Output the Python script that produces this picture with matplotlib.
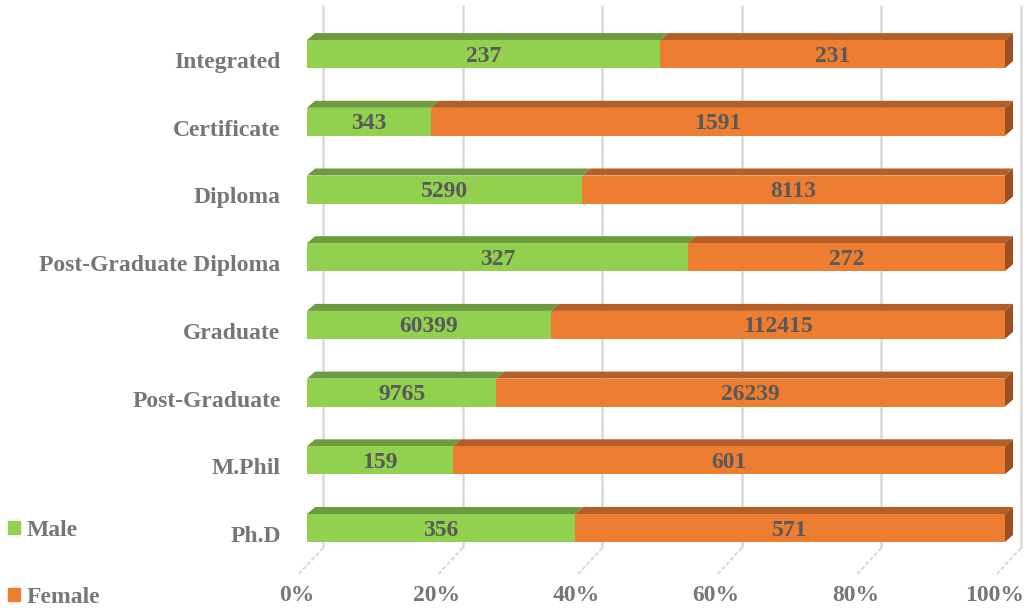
import numpy as np
import matplotlib
matplotlib.use("Agg")
import matplotlib.pyplot as plt
from matplotlib.patches import Polygon, Patch
from matplotlib.transforms import ScaledTranslation

# data (bottom to top)
categories = ["Ph.D", "M.Phil", "Post-Graduate", "Graduate", "Post-Graduate Diploma",
              "Diploma", "Certificate", "Integrated"]
male = [356, 159, 9765, 60399, 327, 5290, 343, 237]
female = [571, 601, 26239, 112415, 272, 8113, 1591, 231]
tick_vals = [0, 20, 40, 60, 80, 100]
tick_labels = ["0%", "20%", "40%", "60%", "80%", "100%"]

green, green_top = "#92D050", "#6E9B3F"
orange, orange_top, orange_side = "#ED7D31", "#B35F27", "#9C5022"
grid_col = "#D9D9D9"
value_col = "#595959"
label_col = "#767676"

plt.rcParams["font.family"] = ["Liberation Serif", "DejaVu Serif"]
plt.rcParams["font.weight"] = "bold"
FS = 17

W, H = 1035, 608
fig = plt.figure(figsize=(W / 100, H / 100), dpi=100)

# axes placed in pixels: front plane 0..100% from x=307 to x=1005
step = 67.7
y_bot = 528 + step / 2
y_top = 528 - 7 * step - step / 2
ax = fig.add_axes([307 / W, 1 - y_bot / H, 698 / W, (y_bot - y_top) / H])
ax.set_xlim(0, 100)
ax.set_ylim(-0.5, 7.5)
for s in ax.spines.values():
    s.set_visible(False)

px_x = 698 / 100.0   # pixels per percent
px_y = step          # pixels per category

def ux(p):
    return p / px_x

def uy(p):
    return p / px_y

h = uy(28)           # front face height
dx, dy = ux(8), uy(7)  # bar depth

# back wall gridlines + floor lines
g_off = ux(16)
y_g_top = -0.5 + (y_bot - 5) / px_y
y_g_bot = -0.5 + (y_bot - 548) / px_y
y_floor = -0.5 - 12 / px_y
for t in tick_vals:
    ax.plot([t + g_off, t + g_off], [y_g_bot, y_g_top], color=grid_col, lw=1.8,
            zorder=0, clip_on=False, solid_capstyle="butt")
    ax.plot([t + g_off, t + g_off - ux(24)], [y_g_bot, y_floor], color=grid_col, lw=1.5,
            zorder=0, clip_on=False, ls=(0, (2, 1)))

male = np.array(male, dtype=float)
female = np.array(female, dtype=float)
tot = male + female
m_pct = male / tot * 100
f_pct = female / tot * 100
yy = np.arange(len(categories))

ax.barh(yy, m_pct, height=h, color=green, zorder=3, label="Male")
ax.barh(yy, f_pct, left=m_pct, height=h, color=orange, zorder=3, label="Female")

for i in yy:
    top = i + h / 2
    for x0, x1, c in [(0, m_pct[i], green_top), (m_pct[i], 100, orange_top)]:
        ax.add_patch(Polygon([(x0, top), (x1, top), (x1 + dx, top + dy), (x0 + dx, top + dy)],
                             closed=True, color=c, zorder=2, clip_on=False, lw=0))
    ax.add_patch(Polygon([(100, i - h / 2), (100, top), (100 + dx, top + dy), (100 + dx, i - h / 2 + dy)],
                         closed=True, color=orange_side, zorder=2, clip_on=False, lw=0))
    ax.text(m_pct[i] / 2, i - uy(2), f"{int(male[i])}", ha="center", va="center",
            fontsize=FS, fontweight="bold", color=value_col, zorder=5)
    ax.text(m_pct[i] + f_pct[i] / 2, i - uy(2), f"{int(female[i])}", ha="center", va="center",
            fontsize=FS, fontweight="bold", color=value_col, zorder=5)

# category labels
ax.set_yticks(yy)
ax.set_yticklabels(categories, fontsize=FS, fontweight="bold", color=label_col)
ax.tick_params(axis="y", length=0, pad=19)
for lab in ax.get_yticklabels():
    lab.set_transform(lab.get_transform() + ScaledTranslation(0, -6 / 100, fig.dpi_scale_trans))

# percent labels
ax.set_xticks(tick_vals)
ax.set_xticklabels(tick_labels, fontsize=FS, fontweight="bold", color=label_col)
ax.tick_params(axis="x", length=0, pad=17)
for lab in ax.get_xticklabels():
    lab.set_transform(lab.get_transform() + ScaledTranslation(-10 / 100, 0, fig.dpi_scale_trans))

handles = [Patch(color=green, label="Male"), Patch(color=orange, label="Female")]
fig.legend(handles=handles, loc="upper left", bbox_to_anchor=(8 / W, 1 - 520 / H),
           frameon=False, fontsize=FS, labelcolor=label_col,
           handlelength=0.5, handleheight=0.5, handletextpad=0.3,
           labelspacing=1.95, borderpad=0, borderaxespad=0)

fig.savefig("out.png", dpi=100)
